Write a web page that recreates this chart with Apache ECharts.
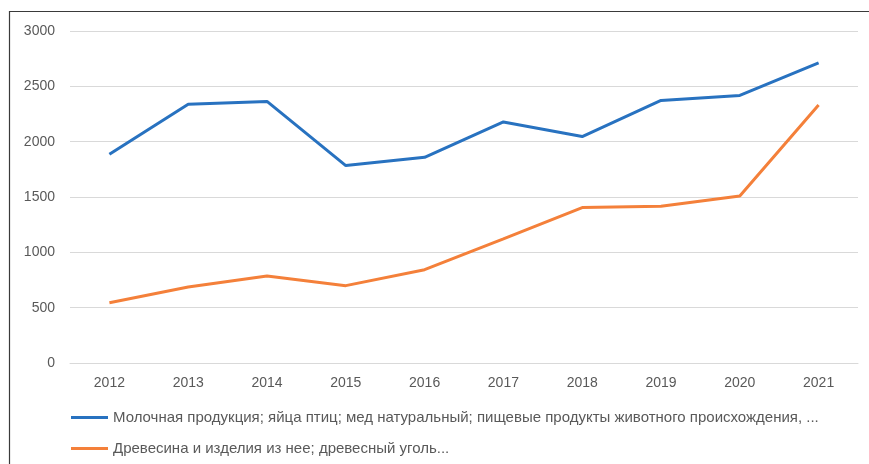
<!DOCTYPE html>
<html>
<head>
<meta charset="utf-8">
<script src="https://cdn.jsdelivr.net/npm/echarts@6/dist/echarts.min.js"></script>
<style>html,body{margin:0;padding:0;background:#fff}#c{width:869px;height:464px}</style>
</head>
<body>
<div id="c"></div>
<script>
const years = ['2012','2013','2014','2015','2016','2017','2018','2019','2020','2021'];
const seriesNames = [
  'Молочная продукция; яйца птиц; мед натуральный; пищевые продукты животного происхождения, ...',
  'Древесина и изделия из нее; древесный уголь...'
];
const dairy = [1886, 2338, 2364, 1784, 1859, 2178, 2046, 2373, 2418, 2712];
const wood = [545, 687, 786, 699, 843, 1121, 1404, 1416, 1510, 2332];
const yTicks = { min: 0, max: 3000, interval: 500 };

const font = 'Liberation Sans';
const chart = echarts.init(document.getElementById('c'), null, { renderer: 'canvas' });
const legendBase = {
  left: 71, padding: 0, itemWidth: 37, itemHeight: 3, icon: 'rect',
  textStyle: { fontFamily: font, fontSize: 15, color: '#595959' }, selectedMode: false
};
chart.setOption({
  animation: false,
  backgroundColor: '#fff',
  graphic: [
    { type: 'polyline', silent: true, shape: { points: [[9.5, 464], [9.5, 11.5], [869, 11.5]] },
      style: { stroke: '#3a3a3a', lineWidth: 1.2, fill: null } }
  ],
  legend: [
    Object.assign({}, legendBase, { top: 410, data: [seriesNames[0]] }),
    Object.assign({}, legendBase, { top: 441, data: [seriesNames[1]] })
  ],
  grid: { left: 70, right: 11, top: 31, bottom: 101, containLabel: false },
  xAxis: {
    type: 'category', data: years, boundaryGap: true,
    axisLine: { show: true, lineStyle: { color: '#d9d9d9' } },
    axisTick: { show: false },
    axisLabel: { color: '#595959', fontFamily: font, fontSize: 14, margin: 13 }
  },
  yAxis: {
    type: 'value', min: yTicks.min, max: yTicks.max, interval: yTicks.interval,
    axisLine: { show: false }, axisTick: { show: false },
    splitLine: { lineStyle: { color: '#d9d9d9', width: 1 } },
    axisLabel: { color: '#595959', fontFamily: font, fontSize: 14, margin: 15,
      formatter: function (v) { return String(v); } }
  },
  series: [
    { name: seriesNames[0], type: 'line', data: dairy, showSymbol: false, symbol: 'none',
      lineStyle: { color: '#2872C0', width: 3 }, itemStyle: { color: '#2872C0' } },
    { name: seriesNames[1], type: 'line', data: wood, showSymbol: false, symbol: 'none',
      lineStyle: { color: '#F4803A', width: 3 }, itemStyle: { color: '#F4803A' } }
  ]
});
</script>
</body>
</html>
